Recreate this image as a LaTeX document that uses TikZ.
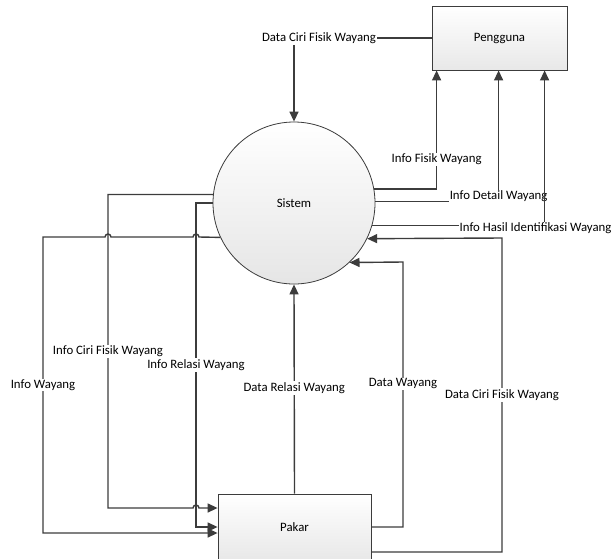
\documentclass[tikz,border=0pt]{standalone}
\usepackage{fontspec}
\setmainfont{Carlito}
\usetikzlibrary{arrows.meta}
\definecolor{lnc}{HTML}{3C3C3C}
\tikzset{
  x=1pt,y=-1pt,
  flow/.style={draw=lnc,line width=1.4pt,-{Triangle[length=10pt,width=9pt]}},
  ent/.style={draw=lnc,line width=0.8pt,rectangle,top color=white,bottom color=black!9,font=\fontsize{12.8}{15}\selectfont},
  proc/.style={draw=lnc,line width=0.8pt,circle,top color=white,bottom color=black!10,minimum size=162pt,inner sep=0pt,font=\fontsize{12.8}{15}\selectfont},
  lbl/.style={fill=white,inner sep=1pt,font=\fontsize{12.8}{15}\selectfont,text=black}
}
\begin{document}
\begin{tikzpicture}
\useasboundingbox (0,0) rectangle (611,558);
\node[ent,minimum width=135pt,minimum height=64pt] (peng) at (499.5,38) {Pengguna};
\node[proc] (sis) at (294,203) {Sistem};
\node[ent,minimum width=153pt,minimum height=66pt] (pakar) at (294.5,527) {Pakar};
\coordinate (dwc) at (403,262);
\coordinate (dcf) at (502,238);
\coordinate (icf) at (108,508);
\coordinate (irc) at (196,527);
% Pengguna -> Sistem
\draw[flow] (peng.west) -| node[lbl,pos=0.5,xshift=25pt]{Data Ciri Fisik Wayang} (sis.north);
% Sistem -> Pengguna
\draw[flow] (sis.10) -| node[lbl,pos=0.625]{Info Fisik Wayang} ([xshift=5pt]peng.south west);
\draw[flow] (sis.1) -| node[lbl,pos=0.5,yshift=5pt]{Info Detail Wayang} ([xshift=67pt]peng.south west);
\draw[flow] (sis.-16) -| node[lbl,pos=0.5,yshift=-3pt,xshift=-9pt]{Info Hasil Identifikasi Wayang} ([xshift=113pt]peng.south west);
% Pakar -> Sistem
\draw[flow] (pakar.north) -- node[lbl,pos=0.505]{Data Relasi Wayang} (sis.south);
\draw[flow] (pakar.east) -| node[lbl,pos=0.77]{Data Wayang} (dwc) -- (sis.-47);
\draw[flow] ([yshift=-25pt]pakar.east) -| node[lbl,pos=0.75]{Data Ciri Fisik Wayang} (dcf) -- (sis.-26);
% Sistem -> Pakar
\draw[flow] (sis.174) -| node[lbl,pos=0.75]{Info Ciri Fisik Wayang} (icf) -- (193,508) arc (180:360:3) -- ([yshift=19pt]pakar.west);
\draw[flow] (sis.180) -| node[lbl,pos=0.75]{Info Relasi Wayang} (irc) -- (pakar.west);
\draw[flow] (sis.205) -- (199,237) arc (360:180:3) -- (111,237) arc (360:180:3) -- (43,237) |- node[lbl,pos=0.25]{Info Wayang} ([yshift=-6pt]pakar.west);
\end{tikzpicture}
\end{document}
